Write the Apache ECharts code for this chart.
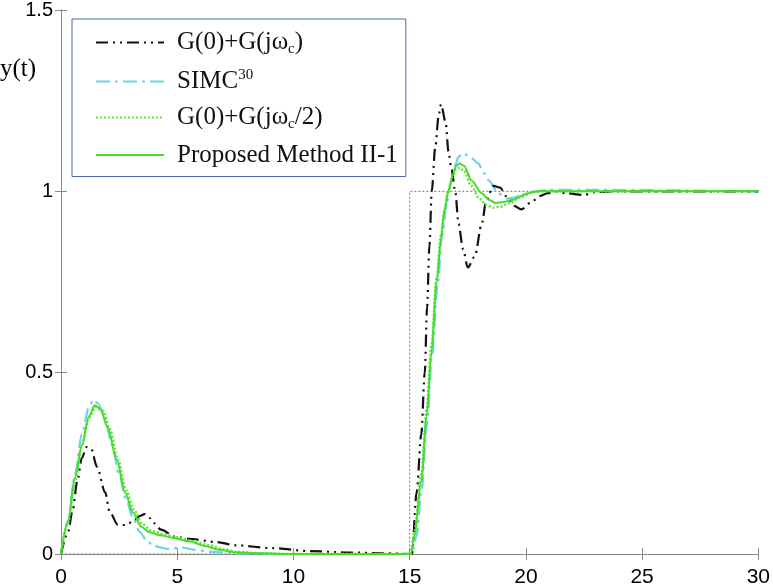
<!DOCTYPE html>
<html>
<head>
<meta charset="utf-8">
<script src="https://cdn.jsdelivr.net/npm/echarts@6/dist/echarts.min.js"></script>
<style>
  html, body { margin: 0; padding: 0; background: #fff; }
  #chart { width: 773px; height: 588px; }
</style>
</head>
<body>
<div id="chart"></div>
<script>
// axis ticks
var xTicks = [0, 5, 10, 15, 20, 25, 30]
var yTicks = [0, 0.5, 1, 1.5]

// series names (legend)
var names = ['G(0)+G(jωc)', 'SIMC30', 'G(0)+G(jωc/2)', 'Proposed Method II-1']

// [t, y]
var blackCurve = [[0, 0], [0.3, 0.06], [0.5, 0.12], [0.7, 0.2], [0.9, 0.265], [1.1, 0.295], [1.3, 0.29], [1.55, 0.24],
  [1.9, 0.17], [2.1, 0.115], [2.45, 0.08], [2.8, 0.08], [3.1, 0.09], [3.4, 0.105], [3.6, 0.11], [3.8, 0.1],
  [4.0, 0.085], [4.3, 0.067], [4.9, 0.048], [5.5, 0.042], [6.7, 0.033], [7.5, 0.024], [9.1, 0.016], [10.7, 0.008],
  [12.5, 0.004], [14, 0.002], [15, 0], [15.1, 0], [15.3, 0.17], [15.5, 0.33], [15.65, 0.5], [15.75, 0.68],
  [15.85, 0.85], [15.95, 1.0], [16.1, 1.12], [16.25, 1.21], [16.35, 1.24], [16.55, 1.19], [16.67, 1.11], [16.8, 1.06],
  [16.97, 0.995], [17.1, 0.91], [17.3, 0.84], [17.5, 0.79], [17.8, 0.82], [18.1, 0.91], [18.3, 0.976], [18.6, 1.015],
  [18.9, 1.01], [19.15, 0.987], [19.5, 0.96], [19.8, 0.95], [20.2, 0.968], [20.6, 0.987], [20.95, 0.995], [21.3, 1.0],
  [21.7, 0.995], [22.5, 0.99], [23, 0.998], [24, 1.0], [26, 1.0], [30, 1.0]]

var simcCurve = [[0, 0], [0.3, 0.09], [0.6, 0.22], [0.9, 0.33], [1.2, 0.405], [1.4, 0.425], [1.6, 0.415], [1.9, 0.37],
  [2.2, 0.3], [2.5, 0.22], [2.8, 0.15], [3.1, 0.1], [3.4, 0.06], [3.7, 0.035], [4.0, 0.022], [4.6, 0.014],
  [5.2, 0.018], [5.7, 0.012], [6.5, 0.006], [7.5, 0.002], [9, 0], [15, 0], [15.1, 0], [15.3, 0.05], [15.5, 0.17],
  [15.75, 0.36], [15.95, 0.54], [16.2, 0.74], [16.4, 0.88], [16.6, 0.97], [16.75, 1.02], [16.95, 1.07], [17.1, 1.095],
  [17.3, 1.105], [17.6, 1.095], [17.95, 1.077], [18.2, 1.05], [18.4, 1.03], [18.8, 0.995], [19.2, 0.98], [19.5, 0.983],
  [19.8, 0.99], [20.4, 1.0], [21, 1.004], [23, 1.004], [26, 1.003], [28, 1.001], [30, 1.0]]

var halfCurve = [[0, 0], [0.3, 0.085], [0.6, 0.2], [0.9, 0.3], [1.2, 0.375], [1.5, 0.405], [1.8, 0.395], [2.1, 0.345],
  [2.45, 0.26], [2.8, 0.175], [3.15, 0.12], [3.5, 0.082], [3.9, 0.064], [4.4, 0.055], [5, 0.046], [5.7, 0.035],
  [6.4, 0.024], [7, 0.013], [7.6, 0.006], [8.5, 0.002], [10, 0], [15, 0], [15.05, 0], [15.2, 0.06], [15.5, 0.22],
  [15.73, 0.4], [15.94, 0.58], [16.16, 0.76], [16.35, 0.88], [16.5, 0.95], [16.65, 1.0], [16.85, 1.04], [17.0, 1.062],
  [17.15, 1.065], [17.35, 1.055], [17.65, 1.015], [18.0, 0.98], [18.3, 0.962], [18.6, 0.955], [18.9, 0.958],
  [19.3, 0.968], [19.8, 0.985], [20.3, 0.998], [20.8, 1.0], [30, 1.0]]

var proposedCurve = [[0, 0], [0.3, 0.09], [0.6, 0.21], [0.9, 0.3], [1.2, 0.38], [1.45, 0.41], [1.7, 0.4], [2.0, 0.35],
  [2.4, 0.26], [2.75, 0.17], [3.1, 0.114], [3.45, 0.075], [3.8, 0.06], [4.25, 0.052], [4.8, 0.045], [5.5, 0.035],
  [6.2, 0.022], [6.8, 0.012], [7.5, 0.005], [8.5, 0.002], [10, 0], [15, 0], [15.05, 0], [15.2, 0.05], [15.5, 0.2],
  [15.73, 0.38], [15.94, 0.56], [16.16, 0.75], [16.35, 0.87], [16.5, 0.95], [16.67, 1.0], [16.85, 1.045], [17.0, 1.07],
  [17.15, 1.077], [17.35, 1.07], [17.66, 1.03], [18.1, 0.995], [18.4, 0.977], [18.7, 0.968], [19.0, 0.97],
  [19.4, 0.976], [20.1, 0.995], [20.5, 1.0], [30, 1.0]]

// reference step
var setpoint = [[0, 0], [15, 0], [15, 1], [30, 1]]

var chart = echarts.init(document.getElementById('chart'))

var serif = '"Liberation Serif", "DejaVu Serif", serif'
var sans = '"Liberation Sans", Arial, sans-serif'
var frame = '#8a8a8a'

// legend labels with sub/superscripts
var legendLabels = {}
legendLabels[names[0]] = '{n|G(0)+G(jω}{sub|c}{n|)}'
legendLabels[names[1]] = '{n|SIMC}{sup|30}'
legendLabels[names[2]] = '{n|G(0)+G(jω}{sub|c}{n|/2)}'
legendLabels[names[3]] = '{n|Proposed Method II-1}'

function xAxisDef (pos, showLabel) {
  return {
    type: 'value',
    position: pos,
    min: xTicks[0],
    max: xTicks[xTicks.length - 1],
    interval: 5,
    axisLine: { show: true, lineStyle: { color: frame, width: 1 } },
    axisTick: { show: true, inside: true, length: 6, lineStyle: { color: frame } },
    splitLine: { show: false },
    axisLabel: {
      show: showLabel,
      color: '#000',
      fontFamily: sans,
      fontSize: 21,
      margin: 13
    }
  }
}

function yAxisDef (pos, showLabel) {
  return {
    type: 'value',
    position: pos,
    min: yTicks[0],
    max: yTicks[yTicks.length - 1],
    interval: 0.5,
    axisLine: { show: true, lineStyle: { color: frame, width: 1 } },
    axisTick: { show: true, inside: true, length: 6, lineStyle: { color: frame } },
    splitLine: { show: false },
    axisLabel: {
      show: showLabel,
      color: '#000',
      fontFamily: sans,
      fontSize: 20,
      margin: 8,
      padding: [13, 0, 0, 0]
    }
  }
}

chart.setOption({
  animation: false,
  grid: { left: 61, right: 12, top: 5, bottom: 33, containLabel: false },
  xAxis: [xAxisDef('bottom', true), xAxisDef('top', false)],
  yAxis: [yAxisDef('left', true), yAxisDef('right', false)],
  graphic: [{
    type: 'text',
    left: 0,
    top: 57,
    style: { text: 'y(t)', font: '25px ' + serif, fill: '#000' }
  }],
  legend: {
    orient: 'vertical',
    left: 72,
    top: 19,
    data: names,
    backgroundColor: '#fff',
    borderColor: '#4a6aa3',
    borderWidth: 1,
    borderRadius: 0,
    padding: [11, 8, 9, 23],
    itemGap: 11,
    itemWidth: 68,
    itemHeight: 14,
    itemStyle: { opacity: 0 },
    formatter: function (name) { return legendLabels[name] },
    textStyle: {
      color: '#111',
      fontFamily: serif,
      fontSize: 25,
      padding: [0, 0, 0, 8],
      rich: {
        n: { fontFamily: serif, fontSize: 25, lineHeight: 28, color: '#111' },
        sub: { fontFamily: serif, fontSize: 15, color: '#111', verticalAlign: 'bottom', lineHeight: 15 },
        sup: { fontFamily: serif, fontSize: 15, color: '#111', verticalAlign: 'top', lineHeight: 15 }
      }
    }
  },
  series: [
    {
      name: 'setpoint',
      type: 'line',
      data: setpoint,
      symbol: 'none',
      silent: true,
      lineStyle: { color: '#777', width: 1, type: [2, 2] },
      z: 1
    },
    {
      name: names[0],
      type: 'line',
      data: blackCurve,
      symbol: 'none',
      smooth: 0.3,
      smoothMonotone: 'x',
      itemStyle: { color: '#111' },
      lineStyle: { color: '#111', width: 2.2, type: [12, 5, 2, 5, 2, 5] },
      z: 3
    },
    {
      name: names[1],
      type: 'line',
      data: simcCurve,
      symbol: 'none',
      smooth: 0.3,
      smoothMonotone: 'x',
      itemStyle: { color: '#66d4ec' },
      lineStyle: { color: '#66d4ec', width: 2.2, type: [14, 5, 3, 5] },
      z: 2
    },
    {
      name: names[2],
      type: 'line',
      data: halfCurve,
      symbol: 'none',
      smooth: 0.3,
      smoothMonotone: 'x',
      itemStyle: { color: '#5ee63c' },
      lineStyle: { color: '#5ee63c', width: 2.5, type: [2, 2] },
      z: 4
    },
    {
      name: names[3],
      type: 'line',
      data: proposedCurve,
      symbol: 'none',
      smooth: 0.3,
      smoothMonotone: 'x',
      itemStyle: { color: '#48dc28' },
      lineStyle: { color: '#48dc28', width: 2 },
      z: 5
    }
  ]
})
</script>
</body>
</html>
